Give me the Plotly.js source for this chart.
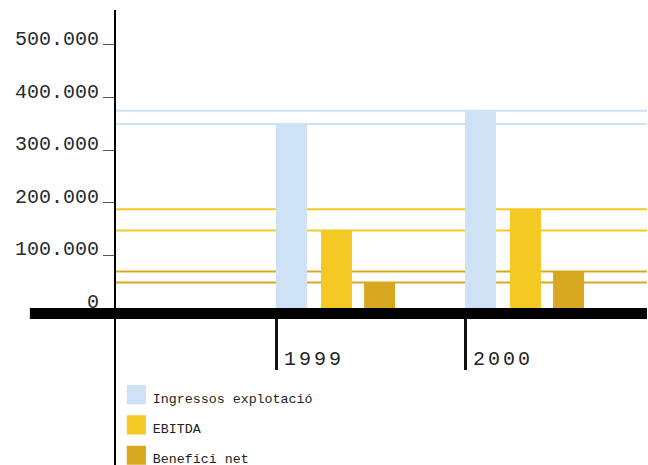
<!DOCTYPE html>
<html><head><meta charset="utf-8">
<script src="https://cdn.plot.ly/plotly-3.0.1.min.js"></script>
<style>
body{margin:0;background:#fff;}
.xtick text{letter-spacing:3px;}
.legendpoints path{transform:translate(23.5px,0px) scale(1.6);}
.legendtext{transform:translate(0px,3px);}
</style></head>
<body><div id="chart" style="width:648px;height:465px;"></div>
<script>
const years = ['1999', '2000'];
const seriesNames = ['Ingressos explotació', 'EBITDA', 'Benefici net'];
const ingressos = [350000, 375000];
const ebitda = [147500, 187500];
const benefici = [48500, 69500];
const yTickVals = [0, 100000, 200000, 300000, 400000, 500000];
const yTickText = ['0', '100.000', '200.000', '300.000', '400.000', '500.000'];

const colors = ['#cfe2f5', '#f4c924', '#d8a920'];
const seriesValues = [ingressos, ebitda, benefici];
const xIdx = years.map((_, i) => i);
const barW = 0.164;
const offsets = [0, 0.238, 0.466];

const traces = seriesValues.map((vals, s) => ({
  type: 'bar',
  x: xIdx,
  y: vals,
  name: seriesNames[s],
  legendgroup: 'g' + s,
  width: barW,
  offset: offsets[s],
  marker: {color: colors[s], line: {width: 0}},
  hoverinfo: 'skip'
}));

const shapes = [];
seriesValues.forEach((vals, s) => {
  vals.forEach(v => {
    shapes.push({type: 'line', xref: 'paper', x0: 0, x1: 1, yref: 'y', y0: v, y1: v,
      line: {color: colors[s], width: 2}, layer: 'below'});
  });
});
// thick baseline
shapes.push({type: 'rect', xref: 'paper', x0: -0.16, x1: 1, yref: 'paper', ysizemode: 'pixel',
  yanchor: 0, y0: 0, y1: -11, fillcolor: '#000', line: {width: 0}, layer: 'above'});
// vertical axis line extending down
shapes.push({type: 'line', xref: 'paper', x0: 0, x1: 0, yref: 'paper', y0: -0.53, y1: 1,
  line: {color: '#000', width: 2}, layer: 'above'});

const layout = {
  width: 648, height: 465,
  margin: {l: 115, r: 1, t: 10, b: 157, autoexpand: false},
  paper_bgcolor: '#fff', plot_bgcolor: '#fff',
  barmode: 'overlay',
  showlegend: true,
  xaxis: {
    range: [-0.852, 1.963],
    tickvals: xIdx, ticktext: years,
    ticks: 'outside', ticklen: 61, tickwidth: 3, tickcolor: '#111',
    ticklabelshift: 38, ticklabelstandoff: -29,
    showgrid: false, zeroline: false, showline: false,
    tickfont: {family: 'Liberation Mono', size: 20, color: '#222'}
  },
  yaxis: {
    range: [0, 566500],
    tickvals: yTickVals, ticktext: yTickText,
    ticks: 'outside', ticklen: 11, tickwidth: 1, tickcolor: '#555',
    ticklabelshift: -7,
    showgrid: false, zeroline: false, showline: false,
    tickfont: {family: 'Liberation Mono', size: 20, color: '#2a2a2a'}
  },
  legend: {
    x: -0.004, xanchor: 'left', y: -0.24, yanchor: 'top',
    traceorder: 'grouped', tracegroupgap: 10,
    font: {family: 'Liberation Mono', size: 13.3, color: '#222'},
    bgcolor: 'rgba(0,0,0,0)', borderwidth: 0
  },
  shapes: shapes
};

Plotly.newPlot('chart', traces, layout, {displayModeBar: false, staticPlot: true});
</script>
</body></html>
